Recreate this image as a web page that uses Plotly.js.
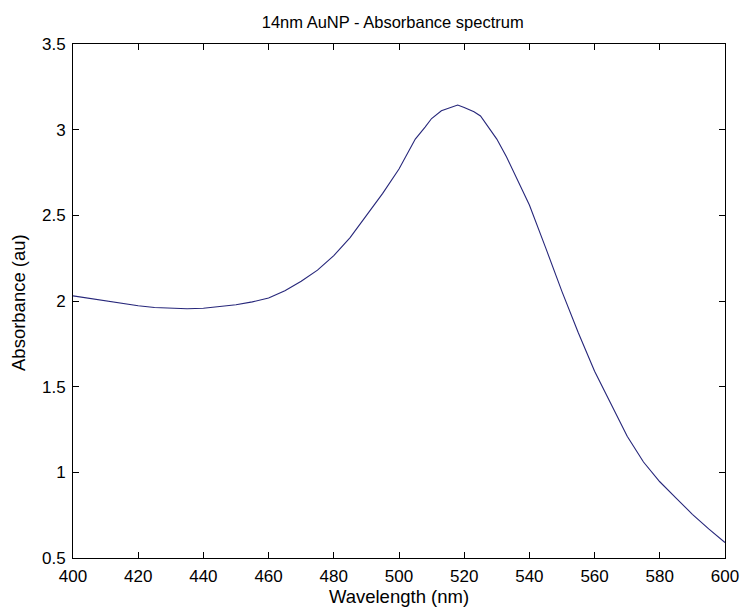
<!DOCTYPE html>
<html>
<head>
<meta charset="utf-8">
<script src="https://cdn.plot.ly/plotly-3.0.1.min.js"></script>
<style>html,body{margin:0;padding:0;background:#fff;}#chart{width:741px;height:612px;}</style>
</head>
<body>
<div id="chart"></div>
<script>
const wavelength = [400,405,410,415,420,425,430,435,440,445,450,455,460,465,470,475,480,485,490,495,500,503,505,508,510,513,515,518,520,523,525,528,530,533,535,540,545,550,555,560,565,570,575,580,585,590,595,600];
const absorbance = [2.03,2.015,2.0,1.985,1.972,1.962,1.957,1.955,1.958,1.966,1.978,1.995,2.018,2.06,2.115,2.18,2.265,2.37,2.5,2.628,2.77,2.875,2.945,3.015,3.065,3.11,3.125,3.144,3.13,3.105,3.08,3.0,2.945,2.84,2.76,2.56,2.31,2.055,1.815,1.59,1.4,1.21,1.06,0.945,0.85,0.755,0.67,0.59];
const xTicks = [400,420,440,460,480,500,520,540,560,580,600];
const yTicks = [0.5,1,1.5,2,2.5,3,3.5];
const yTickText = ['0.5','1','1.5','2','2.5','3','3.5'];
const yTitle = 'Absorbance (au)';

const font = 'Liberation Sans, Arial, sans-serif';
const axisCommon = {
  showline: true, linecolor: '#000', linewidth: 1, mirror: 'ticks',
  ticks: 'inside', ticklen: 6, tickcolor: '#000', tickwidth: 1,
  showgrid: false, zeroline: false,
  tickfont: {family: font, size: 17, color: '#000'}
};
const L = 73, R = 16, T = 44, B = 54, W = 741, H = 612;
Plotly.newPlot('chart', [{
  x: wavelength, y: absorbance, type: 'scatter', mode: 'lines',
  line: {color: '#26267a', width: 1.1}
}], {
  width: W, height: H,
  margin: {l: L, r: R, t: T, b: B},
  paper_bgcolor: '#fff', plot_bgcolor: '#fff',
  showlegend: false,
  title: {text: '14nm AuNP - Absorbance spectrum', font: {family: font, size: 16.5, color: '#000'},
          x: 0.53, xanchor: 'center', y: 1 - 22/612, yanchor: 'middle', yref: 'container'},
  xaxis: Object.assign({}, axisCommon, {
    range: [400, 600], tickvals: xTicks, ticktext: xTicks.map(String),
    ticklabelstandoff: 3,
    title: {text: 'Wavelength (nm)', font: {family: font, size: 18.5, color: '#000'}, standoff: 4}
  }),
  yaxis: Object.assign({}, axisCommon, {
    range: [0.5, 3.5], tickvals: yTicks, ticktext: yTickText,
    ticklabelstandoff: 3
  }),
  annotations: [{
    text: yTitle, textangle: -90, showarrow: false,
    xref: 'paper', yref: 'paper', x: (18 - L) / (W - L - R), y: 0.5 + (301 - 303) / (H - T - B),
    xanchor: 'center', yanchor: 'middle',
    font: {family: font, size: 18.5, color: '#000'}
  }]
}, {displayModeBar: false, staticPlot: true});
</script>
</body>
</html>
